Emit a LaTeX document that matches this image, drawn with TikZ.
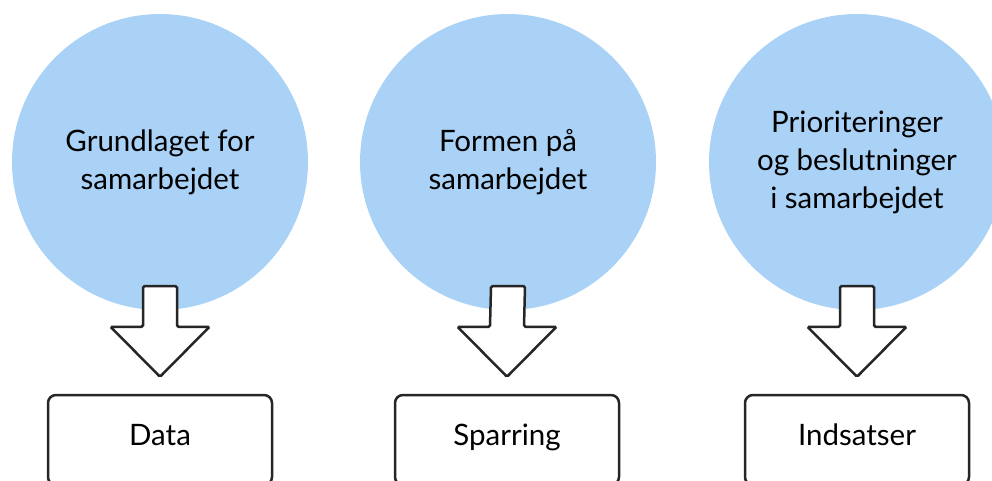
\documentclass[tikz,border=0pt]{standalone}
\usepackage{fontspec}
\setmainfont{Lato}
\usetikzlibrary{positioning,calc}
\definecolor{SamarbejdeBlue}{HTML}{A9D2F6}
\definecolor{KantGraa}{HTML}{262626}
\newcommand{\blokpil}[2]{%
  \draw[pil] ($(#1.south)+(-17,-24)$) -- ($(#1.south)+(17,-24)$)
    -- ($(#2.north)+(17,-67)$) -- ($(#2.north)+(49.5,-67)$)
    -- ($(#2.north)+(0,-17)$) -- ($(#2.north)+(-49.5,-67)$)
    -- ($(#2.north)+(-17,-67)$) -- cycle;}

\begin{document}
\begin{tikzpicture}[x=1pt,y=-1pt,
  emne/.style={circle,fill=SamarbejdeBlue,minimum size=296pt,inner sep=0pt,
    align=center,font=\fontsize{29.5}{38}\selectfont},
  resultat/.style={rectangle,rounded corners=8pt,draw=KantGraa,line width=2.5pt,
    fill=white,minimum width=224pt,minimum height=90pt,text height=21pt,text depth=10pt,
    font=\fontsize{29.5}{36}\selectfont},
  pil/.style={draw=KantGraa,fill=white,line width=2.5pt,rounded corners=1.5pt}
]
\clip (0,0) rectangle (992,480);
\node[emne] (grundlag) at (160,162) {Grundlaget for\\samarbejdet};
\node[emne] (form) at (508,162) {Formen på\\samarbejdet};
\node[emne] (prioritet) at (857,162) {Prioriteringer\\og beslutninger\\i samarbejdet};
\node[resultat] (data) at (160,440) {Data};
\node[resultat] (sparring) at (507,440) {Sparring};
\node[resultat] (indsats) at (857,440) {Indsatser};
\foreach \a/\b in {grundlag/data,form/sparring,prioritet/indsats}
  \blokpil{\a}{\b};
\end{tikzpicture}
\end{document}
